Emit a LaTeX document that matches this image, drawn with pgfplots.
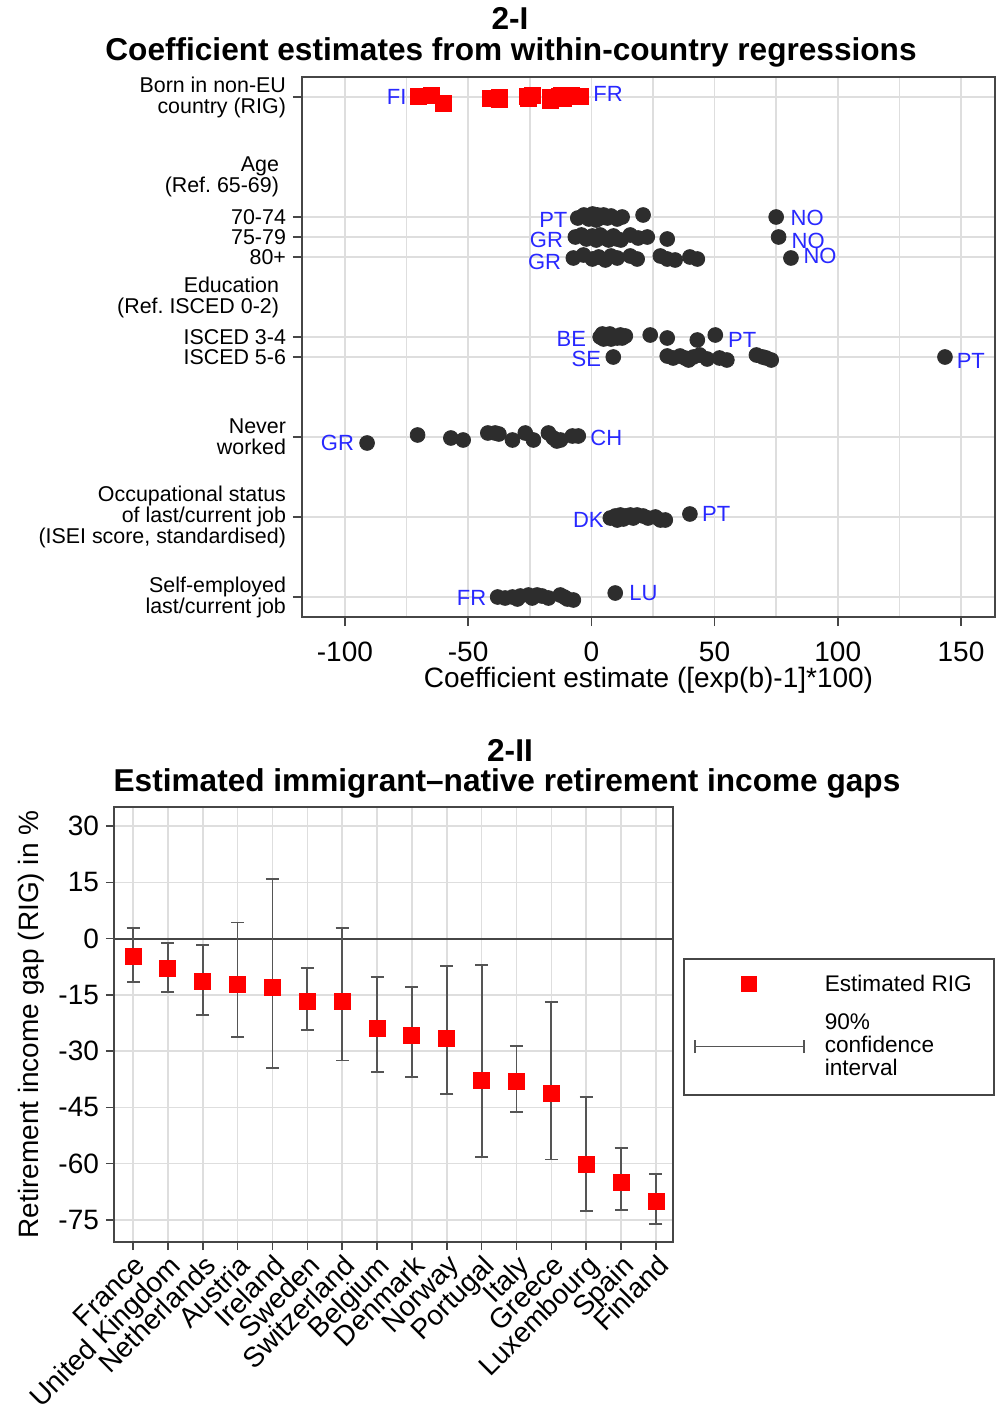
\documentclass[border=0pt]{standalone}
\usepackage{fontspec}
\setmainfont{Liberation Sans}
\usepackage{pgfplots}
\pgfplotsset{compat=1.18}
\definecolor{dotc}{RGB}{45,45,45}
\definecolor{lblue}{RGB}{40,40,255}
\definecolor{gridc}{RGB}{222,222,222}
\definecolor{axc}{RGB}{70,70,70}
\definecolor{errc}{RGB}{85,85,85}
\frenchspacing
\begin{document}
\begin{tikzpicture}
\path[use as bounding box] (0pt,0pt) rectangle (498.5pt,-703.5pt);
\node[font=\bfseries\fontsize{15.8}{16}\selectfont] at (255pt,-9pt) {2-I};
\node[font=\bfseries\fontsize{15.8}{16}\selectfont] at (255.5pt,-26pt) {Coefficient estimates from within-country regressions};
\node[font=\bfseries\fontsize{15.8}{16}\selectfont] at (255pt,-375pt) {2-II};
\node[font=\bfseries\fontsize{15.8}{16}\selectfont] at (253.5pt,-391.5pt) {Estimated immigrant–native retirement income gaps};

\begin{axis}[
 at={(151pt,-38.5pt)}, anchor=north west, scale only axis,
 width=346.5pt, height=270pt,
 xmin=-117.4, xmax=163.8, ymin=-1, ymax=26,
 xtick={-100,-50,...,150}, minor xtick={-75,-25,25,75,125},
 xmajorgrids, xminorgrids, ymajorgrids,
 grid style={gridc, line width=0.8pt}, minor grid style={gridc, line width=0.8pt},
 ytick={0,4,8,12,13,17,18,19,25},
 yticklabels={{Self-employed\\last/current job},{Occupational status\\of last/current job\\(ISEI score, standardised)},{Never\\worked},{ISCED 5-6},{ISCED 3-4},{80+},{75-79},{70-74},{Born in non-EU\\country (RIG)}},
 extra y ticks={15,21},
 extra y tick labels={{Education\\(Ref. ISCED 0-2)},{Age\\(Ref. 65-69)}},
 extra y tick style={grid=none, major tick length=0pt, yticklabel style={xshift=-8pt}},
 yticklabel style={align=right, font=\fontsize{10.7}{10.5}\selectfont},
 xticklabel style={font=\fontsize{14}{14}\selectfont, yshift=-4.5pt},
 xlabel={Coefficient estimate ([exp(b)-1]*100)},
 xlabel style={font=\fontsize{14}{14}\selectfont, at={(axis description cs:0.5,0)}, anchor=center, yshift=-31.5pt},
 tick align=outside, xtick pos=bottom, ytick pos=left,
 major tick length=4.5pt, minor tick length=0pt,
 axis line style={axc, line width=0.8pt}, tick style={axc, line width=0.8pt},
 /pgf/number format/assume math mode=true,
 clip=false,
]
% Born in non-EU country (RIG)
\addplot[only marks, mark=square*, mark size=4pt, mark options={draw=red, fill=red}] coordinates {
(-4.5,25.05) (-8,25.1) (-11.5,24.95) (-12,25.1) (-13,25.05) (-16.5,24.85) (-16.5,25.0) (-24,25.1)
(-25.5,24.95) (-26,25.05) (-37.5,25.0) (-37.5,24.9) (-41,24.95) (-60,24.7) (-65,25.1) (-70,25.05)};
% 70-74
\addplot[only marks, mark=*, mark size=3.7pt, mark options={draw=dotc, fill=dotc}] coordinates {
(-5.5,18.95) (-3,19.1) (-1,18.9) (0.5,19.15) (1.5,19.0) (2,18.85) (2.5,19.1) (3.5,18.95) (4,19.05)
(5,19.1) (6.5,18.95) (8,19.05) (10.5,18.9) (12.5,19.0) (21,19.1) (75,19.0)};
% 75-79
\addplot[only marks, mark=*, mark size=3.7pt, mark options={draw=dotc, fill=dotc}] coordinates {
(-6.5,18.0) (-4,18.1) (-2,17.9) (0.4,18.05) (2,17.85) (3.6,18.1) (5.5,17.95) (7,17.85) (9,18.05)
(10.5,17.9) (12,17.85) (15.8,18.1) (19,17.95) (22.7,18.0) (30.8,17.9) (76,18.0)};
% 80+
\addplot[only marks, mark=*, mark size=3.7pt, mark options={draw=dotc, fill=dotc}] coordinates {
(-7.3,16.95) (-3.2,17.1) (0.4,16.9) (3,17.0) (5.7,16.85) (8,17.05) (10.5,16.95) (15.8,17.05)
(18.6,16.9) (28,17.05) (30.8,16.9) (34,16.85) (40,17.0) (43,16.9) (81,16.95)};
% ISCED 3-4
\addplot[only marks, mark=*, mark size=3.7pt, mark options={draw=dotc, fill=dotc}] coordinates {
(3.6,13.0) (4.5,13.15) (5,12.9) (6.5,13.05) (7.5,13.15) (8,12.9) (8.9,13.05) (10.5,12.95)
(11.8,13.1) (12.5,12.95) (13.8,13.05) (23.9,13.1) (30.8,12.95) (43,12.85) (50.3,13.1)};
% ISCED 5-6
\addplot[only marks, mark=*, mark size=3.7pt, mark options={draw=dotc, fill=dotc}] coordinates {
(8.9,12.0) (30.8,12.05) (33.2,11.95) (36,12.05) (38,11.95) (39.5,11.85) (41.4,12.0) (44,12.1)
(47,11.9) (52,11.95) (55,11.85) (67,12.1) (69.5,12.0) (71,11.95) (73,11.85) (143.5,12.0)};
% Never worked
\addplot[only marks, mark=*, mark size=3.7pt, mark options={draw=dotc, fill=dotc}] coordinates {
(-91,7.7) (-70.5,8.1) (-57,7.95) (-52,7.85) (-42,8.2) (-39,8.2) (-37.5,8.15) (-32,7.85)
(-26.8,8.2) (-23.5,7.85) (-17.4,8.2) (-15.4,7.95) (-14,7.8) (-12.5,7.85) (-7.7,8.05) (-5.3,8.05)};
% Occupational status
\addplot[only marks, mark=*, mark size=3.7pt, mark options={draw=dotc, fill=dotc}] coordinates {
(7.7,3.95) (9.7,4.05) (10.5,3.85) (11.8,4.1) (13,3.9) (13.8,4.05) (15.8,4.1) (17,3.95)
(18.6,4.1) (21,4.05) (23,3.95) (26,4.0) (28,3.85) (30,3.85) (40,4.15)};
% Self-employed
\addplot[only marks, mark=*, mark size=3.7pt, mark options={draw=dotc, fill=dotc}] coordinates {
(-38,0.0) (-35,-0.05) (-32,0.0) (-30,-0.1) (-28.8,0.05) (-25.5,0.1) (-24,-0.05) (-22,0.1)
(-20,0.05) (-17.4,-0.05) (-12.6,0.1) (-11,0.0) (-9.7,-0.1) (-7.3,-0.15) (9.7,0.2)};
% country labels
\begin{scope}[every node/.style={text=lblue, font=\fontsize{11}{11}\selectfont, inner sep=0pt}]
\node at (axis cs:-79,25.0) {FI};
\node at (axis cs:6.8,25.15) {FR};
\node at (axis cs:-15.4,18.85) {PT};
\node at (axis cs:-18.2,17.85) {GR};
\node at (axis cs:-19,16.75) {GR};
\node at (axis cs:87.6,18.95) {NO};
\node at (axis cs:88,17.8) {NO};
\node at (axis cs:92.8,17.05) {NO};
\node at (axis cs:-8.1,12.9) {BE};
\node at (axis cs:-2,11.9) {SE};
\node at (axis cs:61.2,12.85) {PT};
\node at (axis cs:154,11.8) {PT};
\node at (axis cs:-103,7.7) {GR};
\node at (axis cs:6.1,7.95) {CH};
\node at (axis cs:-1.2,3.85) {DK};
\node at (axis cs:50.7,4.15) {PT};
\node at (axis cs:-48.6,-0.05) {FR};
\node at (axis cs:21.1,0.2) {LU};
\end{scope}
\end{axis}

\begin{axis}[
 at={(57pt,-403.5pt)}, anchor=north west, scale only axis,
 width=279.5pt, height=217.5pt,
 xmin=0.455, xmax=16.49, ymin=-80.9, ymax=35.1,
 xtick={1,...,16},
 xticklabels={France,United Kingdom,Netherlands,Austria,Ireland,Sweden,Switzerland,Belgium,Denmark,Norway,Portugal,Italy,Greece,Luxembourg,Spain,Finland},
 xticklabel style={rotate=45, anchor=north east, font=\fontsize{14}{14}\selectfont, inner sep=1pt},
 ytick={-75,-60,...,30},
 yticklabel style={font=\fontsize{14}{14}\selectfont},
 ylabel={Retirement income gap (RIG) in \%},
 ylabel style={font=\fontsize{14}{14}\selectfont},
 grid=major, grid style={gridc, line width=0.8pt},
 tick align=outside, xtick pos=bottom, ytick pos=left,
 major tick length=4pt,
 axis line style={axc, line width=0.8pt}, tick style={axc, line width=0.8pt},
 /pgf/number format/assume math mode=true,
 reverse legend,
 legend style={at={(1.018,0.653)}, anchor=north west, draw=axc, line width=0.8pt,
   font=\fontsize{11.3}{11.5}\selectfont, cells={anchor=west, align=left},
   inner xsep=5pt, inner ysep=6pt, row sep=6pt},
]
\addplot[axc, line width=1pt, forget plot] coordinates {(0.455,0) (16.49,0)};
\addplot[draw=none, mark=none,
  legend image code/.code={
    \draw[errc, line width=0.9pt] (0pt,0pt) -- (54.5pt,0pt);
    \draw[errc, line width=0.9pt] (0pt,-3.25pt) -- (0pt,3.25pt);
    \draw[errc, line width=0.9pt] (54.5pt,-3.25pt) -- (54.5pt,3.25pt);
    \path[draw=none] (0pt,0pt) -- (63pt,0pt);},
  error bars/.cd, y dir=both, y explicit,
  error bar style={draw=errc, solid, line width=0.9pt},
  error mark options={rotate=90, draw=errc, solid, mark size=3.25pt, line width=0.9pt}]
 table[x=x, y=y, y error plus=ep, y error minus=em] {
x y ep em
1 -4.7 7.45 6.8
2 -7.9 6.65 6.3
3 -11.5 9.9 8.8
4 -12.3 16.6 13.9
5 -13.0 28.8 21.5
6 -16.7 8.95 7.6
7 -16.7 19.45 15.8
8 -24.0 13.8 11.6
9 -25.9 12.9 10.9
10 -26.6 19.2 14.9
11 -37.8 30.7 20.5
12 -38.0 9.4 8.3
13 -41.4 24.5 17.5
14 -60.2 18.0 12.5
15 -65.0 9.2 7.3
16 -70.2 7.5 5.9
};
\addlegendentry{90\%\\confidence\\interval}
\addplot[only marks, mark=square*, mark size=4pt, mark options={draw=red, fill=red},
  legend image code/.code={
    \path[draw=none] (0pt,0pt) -- (63pt,0pt);
    \fill[red, draw=none] (23.25pt,-4pt) rectangle (31.25pt,4pt);}]
 coordinates {(1,-4.7) (2,-7.9) (3,-11.5) (4,-12.3) (5,-13.0) (6,-16.7) (7,-16.7) (8,-24.0)
 (9,-25.9) (10,-26.6) (11,-37.8) (12,-38.0) (13,-41.4) (14,-60.2) (15,-65.0) (16,-70.2)};
\addlegendentry{Estimated RIG\hspace{4pt}}
\end{axis}
\end{tikzpicture}
\end{document}
